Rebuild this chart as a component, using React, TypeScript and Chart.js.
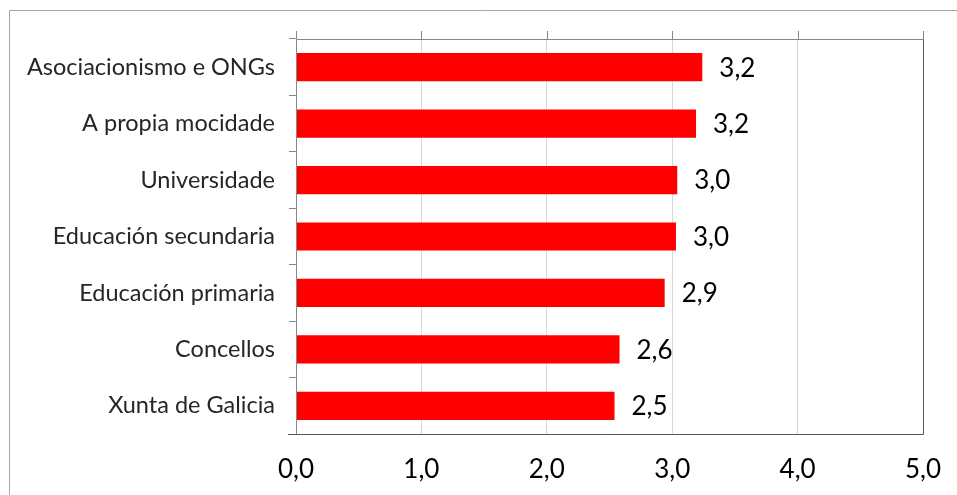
import React, { useEffect, useRef } from "react";
import { Chart, registerables } from "chart.js";

Chart.register(...registerables);

const categories = [
  "Asociacionismo e ONGs",
  "A propia mocidade",
  "Universidade",
  "Educación secundaria",
  "Educación primaria",
  "Concellos",
  "Xunta de Galicia",
];
const values = [3.24, 3.19, 3.04, 3.03, 2.94, 2.58, 2.54];
const xMin = 0;
const xMax = 5;
const xStep = 1;

const FONT = "Lato";
const fmt = (v: number) => v.toFixed(1).replace(".", ",");

const framePlugin = {
  id: "framePlugin",
  afterDraw(chart: any) {
    const { ctx, chartArea } = chart;
    const { left, right, top, bottom } = chartArea;
    const xs = chart.scales.x;
    ctx.save();
    // outer border
    ctx.strokeStyle = "#a6a6a6";
    ctx.lineWidth = 1;
    ctx.beginPath();
    ctx.moveTo(9.5, chart.height);
    ctx.lineTo(9.5, 10.5);
    ctx.lineTo(chart.width, 10.5);
    ctx.stroke();
    // top ticks
    ctx.strokeStyle = "#868686";
    ctx.beginPath();
    for (let v = xMin; v <= xMax; v += xStep) {
      const px = Math.round(xs.getPixelForValue(v)) + 0.5;
      ctx.moveTo(px, top - 8);
      ctx.lineTo(px, top);
    }
    ctx.stroke();
    // top & left frame
    ctx.beginPath();
    ctx.moveTo(Math.round(left) + 0.5, Math.round(bottom) + 0.5);
    ctx.lineTo(Math.round(left) + 0.5, Math.round(top) + 0.5);
    ctx.lineTo(Math.round(right) + 0.5, Math.round(top) + 0.5);
    ctx.stroke();
    // right & bottom frame
    ctx.strokeStyle = "#595959";
    ctx.beginPath();
    ctx.moveTo(Math.round(right) + 0.5, Math.round(top) + 0.5);
    ctx.lineTo(Math.round(right) + 0.5, Math.round(bottom) + 0.5);
    ctx.lineTo(Math.round(left) - 8, Math.round(bottom) + 0.5);
    ctx.stroke();
    // data labels
    const meta = chart.getDatasetMeta(0);
    ctx.fillStyle = "#000000";
    ctx.font = `26px ${FONT}`;
    ctx.textAlign = "left";
    ctx.textBaseline = "middle";
    meta.data.forEach((bar: any, i: number) => {
      ctx.fillText(fmt(values[i]), bar.x + 17, bar.y + 1);
    });
    ctx.restore();
  },
};

export default function App() {
  const ref = useRef<HTMLCanvasElement | null>(null);
  useEffect(() => {
    if (!ref.current) return;
    const chart = new Chart(ref.current, {
      type: "bar",
      data: {
        labels: categories,
        datasets: [
          {
            data: values,
            backgroundColor: "#ff0000",
            borderWidth: 0,
            barPercentage: 0.5,
            categoryPercentage: 1,
          },
        ],
      },
      options: {
        indexAxis: "y",
        animation: false,
        responsive: false,
        devicePixelRatio: 1,
        layout: { padding: { left: 0, right: 34, top: 39, bottom: 0 } },
        plugins: { legend: { display: false }, tooltip: { enabled: false } },
        scales: {
          x: {
            min: xMin,
            max: xMax,
            position: "bottom",
            ticks: {
              stepSize: xStep,
              color: "#000000",
              font: { family: FONT, size: 26 },
              padding: 20,
              callback: (v: any) => fmt(Number(v)),
            },
            grid: { color: "#d9d9d9", drawTicks: false },
            border: { display: false },
            afterFit: (s: any) => {
              s.height = 61;
              s.paddingRight = 0;
              s.paddingLeft = 0;
            },
          },
          y: {
            ticks: {
              color: "#262626",
              font: { family: FONT, size: 23.5 },
              padding: 14,
            },
            grid: {
              offset: true,
              drawOnChartArea: false,
              drawTicks: true,
              tickLength: 7,
              color: "#868686",
            },
            border: { display: false },
            afterFit: (s: any) => {
              s.width = 296;
              s.paddingTop = 0;
              s.paddingBottom = 0;
            },
          },
        },
      },
      plugins: [framePlugin],
    });
    return () => chart.destroy();
  }, []);
  return (
    <div style={{ position: "fixed", left: 0, top: 0, width: 957, height: 495, background: "#fff" }}>
      <canvas ref={ref} width={957} height={495} />
    </div>
  );
}
